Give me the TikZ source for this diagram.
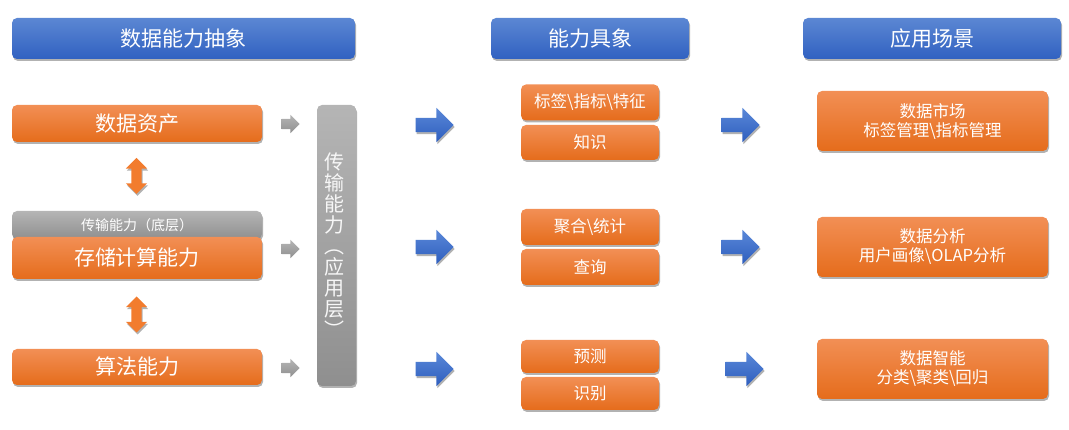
\documentclass[tikz,border=0pt]{standalone}
\usepackage{fontspec}
\setmainfont{Noto Sans CJK SC}
\usepackage{tikz}
\usetikzlibrary{shapes,arrows}
\usetikzlibrary{shadows}
\definecolor{hdrtop}{HTML}{5B87D3}
\definecolor{hdrbot}{HTML}{3161C1}
\definecolor{ortop}{HTML}{F28F55}
\definecolor{ormid}{HTML}{F27C2E}
\definecolor{orbot}{HTML}{E56C1B}
\definecolor{grtop}{HTML}{B5B5B5}
\definecolor{grbot}{HTML}{8F8F8F}
\definecolor{arwtop}{HTML}{5A88D8}
\definecolor{arwbot}{HTML}{2E5EBE}
\tikzstyle{shad}=[drop shadow={shadow xshift=1pt,shadow yshift=-2pt,opacity=0.3,fill=black}]
\tikzstyle{header}=[rounded corners=5pt,top color=hdrtop,bottom color=hdrbot,text=white,minimum height=41pt,inner sep=0pt,font=\fontsize{21}{25}\selectfont,shad]
\tikzstyle{obox}=[rounded corners=5pt,top color=ortop,middle color=ormid,bottom color=orbot,text=white,inner sep=0pt,shad]
\tikzstyle{gbox}=[rounded corners=5pt,top color=grtop,bottom color=grbot,text=white,inner sep=0pt,shad]
\tikzstyle{leftbox}=[obox,minimum width=250pt,font=\fontsize{21}{25}\selectfont]
\tikzstyle{midbox}=[obox,minimum width=138pt,font=\fontsize{16.5}{19}\selectfont]
\tikzstyle{appbox}=[obox,minimum width=231pt,minimum height=60pt,align=center,font=\fontsize{16.5}{19}\selectfont]
\tikzstyle{bluearrow}=[single arrow,minimum height=38pt,minimum width=34pt,single arrow head extend=10pt,inner sep=7pt,top color=arwtop,bottom color=arwbot,shad]
\tikzstyle{grayarrow}=[single arrow,minimum height=18pt,minimum width=18pt,single arrow head extend=4pt,inner sep=5pt,top color=grtop,bottom color=grbot]
\tikzstyle{updown}=[double arrow,shape border rotate=90,minimum height=36pt,minimum width=21pt,double arrow head extend=5.5pt,inner sep=5pt,fill=ormid,shad]

\begin{document}
\begin{tikzpicture}[x=1pt,y=-1pt]
\useasboundingbox (0,0) rectangle (1069,430);

% headers
\node[header,minimum width=343pt] (hdrAbs) at (183.5,38.5) {数据能力抽象};
\node[header,minimum width=198pt] (hdrCon) at (590,38.5) {能力具象};
\node[header,minimum width=258pt] (hdrApp) at (932,38.5) {应用场景};

% left column
\node[leftbox,minimum height=37pt] (asset) at (137,123.5) {数据资产};
\node[gbox,minimum width=250pt,minimum height=28pt,font=\fontsize{14}{16}\selectfont] (trans) at (137,225) {传输能力（底层）};
\node[leftbox,minimum height=42pt] (store) at (137,258) {存储计算能力};
\node[leftbox,minimum height=36pt] (algo) at (137,367) {算法能力};

\node[updown] (linkA) at (136.5,176) {};
\node[updown] (linkB) at (136.5,314.5) {};

\node[grayarrow] (toBarA) at (288,124) {};
\node[grayarrow] (toBarB) at (288,249) {};
\node[grayarrow] (toBarC) at (288,368) {};

\node[gbox,minimum width=39pt,minimum height=281pt,align=center,text=white!94!gray,font=\fontsize{20}{21}\selectfont] (appBar) at (336.5,245.5) {\hspace*{-4pt}传\\\hspace*{-4pt}输\\\hspace*{-4pt}能\\\hspace*{-4pt}力\\\hspace*{-4pt}︵\\\hspace*{-4pt}应\\\hspace*{-4pt}用\\\hspace*{-4pt}层\\\hspace*{-4pt}︶};

% first arrows
\node[bluearrow] (arwA) at (431,125) {};
\node[bluearrow] (arwB) at (431,247) {};
\node[bluearrow] (arwC) at (431,369) {};

% middle column
\node[midbox,minimum height=36pt] (tags) at (590,102.5) {标签\textbackslash 指标\textbackslash 特征};
\node[midbox,minimum height=35pt] (know) at (590,142.5) {知识};
\node[midbox,minimum height=36pt] (aggr) at (590,227) {聚合\textbackslash 统计};
\node[midbox,minimum height=36pt] (query) at (590,267) {查询};
\node[midbox,minimum height=33pt] (pred) at (590,356.5) {预测};
\node[midbox,minimum height=33pt] (recog) at (590,393.5) {识别};

% second arrows
\node[bluearrow] (arwD) at (737,125) {};
\node[bluearrow] (arwE) at (737,247) {};
\node[bluearrow] (arwF) at (741,369) {};

% right column
\node[appbox] (market) at (932.5,121) {数据市场\\标签管理\textbackslash 指标管理};
\node[appbox] (analysis) at (932.5,247) {数据分析\\用户画像\textbackslash OLAP分析};
\node[appbox] (smart) at (932.5,369) {数据智能\\分类\textbackslash 聚类\textbackslash 回归};
\end{tikzpicture}
\end{document}
